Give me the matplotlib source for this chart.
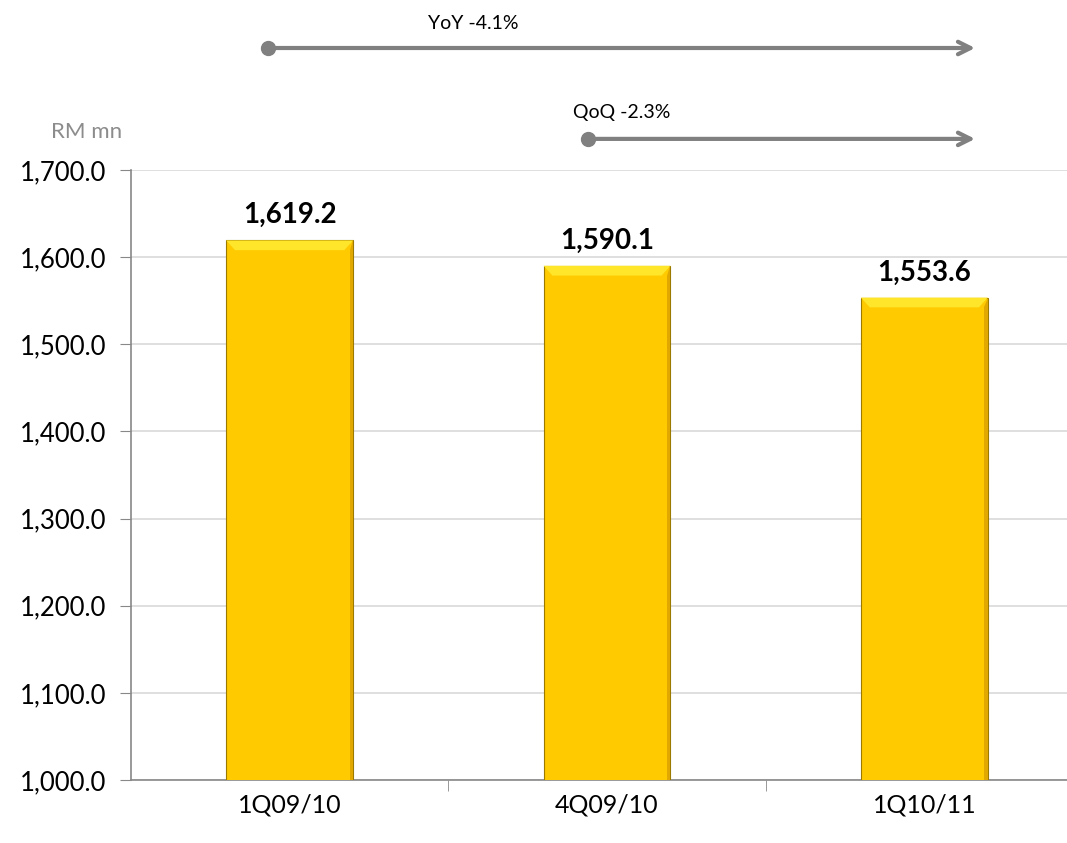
import matplotlib.pyplot as plt
from matplotlib.patches import Polygon
from matplotlib.ticker import FuncFormatter

# 季度数据
categories = ['1Q09/10', '4Q09/10', '1Q10/11']
values = [1619.2, 1590.1, 1553.6]
yoy_label = 'YoY -4.1%'
qoq_label = 'QoQ -2.3%'

plt.rcParams['font.family'] = ['Lato', 'DejaVu Sans']

fig = plt.figure(figsize=(10.67, 8.43), dpi=100)
ax = fig.add_axes([131 / 1067, 63 / 843, 952 / 1067, 610 / 843])

x = list(range(len(categories)))
bars = ax.bar(x, values, width=0.4, color='#FFCA00', edgecolor='#9C7A00',
              linewidth=0.8, zorder=3)

# 柱子顶部的斜面高光
for b in bars:
    x0, y0 = b.get_x(), b.get_y()
    w, h = b.get_width(), b.get_height()
    dx = w * 0.07
    dy = 700 * 0.016
    top = y0 + h
    ax.add_patch(Polygon([(x0, top), (x0 + w, top), (x0 + w - dx, top - dy),
                          (x0 + dx, top - dy)], closed=True,
                         facecolor='#FFE62A', edgecolor='none', zorder=4))
    ax.add_patch(Polygon([(x0 + w, top), (x0 + w, y0), (x0 + w - dx * 0.4, y0),
                          (x0 + w - dx * 0.4, top - dy)], closed=True,
                         facecolor='#E0A800', edgecolor='none', zorder=4))

for xi, v in zip(x, values):
    ax.text(xi, v + 14, f'{v:,.1f}', ha='center', va='bottom',
            fontsize=20, fontweight='bold', color='black', zorder=5)

ax.set_xlim(-0.5, 2.5)
ax.set_ylim(1000, 1700)
ax.set_yticks(range(1000, 1701, 100))
ax.yaxis.set_major_formatter(FuncFormatter(lambda v, p: f'{v:,.1f}'))
ax.set_xticks(x)
ax.set_xticklabels(categories)
ax.set_xticks([0.5, 1.5], minor=True)
ax.tick_params(axis='x', which='major', length=0, pad=10, labelsize=18)
ax.tick_params(axis='x', which='minor', length=8, color='#888888', direction='out')
ax.tick_params(axis='y', length=8, color='#888888', labelsize=18.5, pad=10)

ax.grid(axis='y', color='#d9d9d9', linewidth=1.2, zorder=0)
for s in ['top', 'right']:
    ax.spines[s].set_visible(False)
for s in ['left', 'bottom']:
    ax.spines[s].set_color('#888888')
    ax.spines[s].set_linewidth(1.2)

ax.text(-0.047, 1.062, 'RM mn', transform=ax.transAxes, ha='center', va='center',
        fontsize=16, color='#8c8c8c')

# 同比 / 环比箭头
arrow_color = '#808080'
trans = ax.get_xaxis_transform()
for start, end, yy, label, lx, ly in [(-0.068, 2.16, 1.2, yoy_label, 0.578, 1.24),
                                      (0.94, 2.16, 1.051, qoq_label, 1.047, 1.095)]:
    ax.annotate('', xy=(end, yy), xytext=(start, yy), xycoords=trans,
                textcoords=trans, annotation_clip=False,
                arrowprops=dict(arrowstyle='->,head_length=0.9,head_width=0.45',
                                color=arrow_color, lw=3, shrinkA=0, shrinkB=0))
    ax.plot([start], [yy], 'o', transform=trans, color=arrow_color,
            markersize=10, clip_on=False)
    ax.text(lx, ly, label, transform=trans, ha='center', va='center',
            fontsize=14, color='black')

fig.savefig('out.png', dpi=100)
